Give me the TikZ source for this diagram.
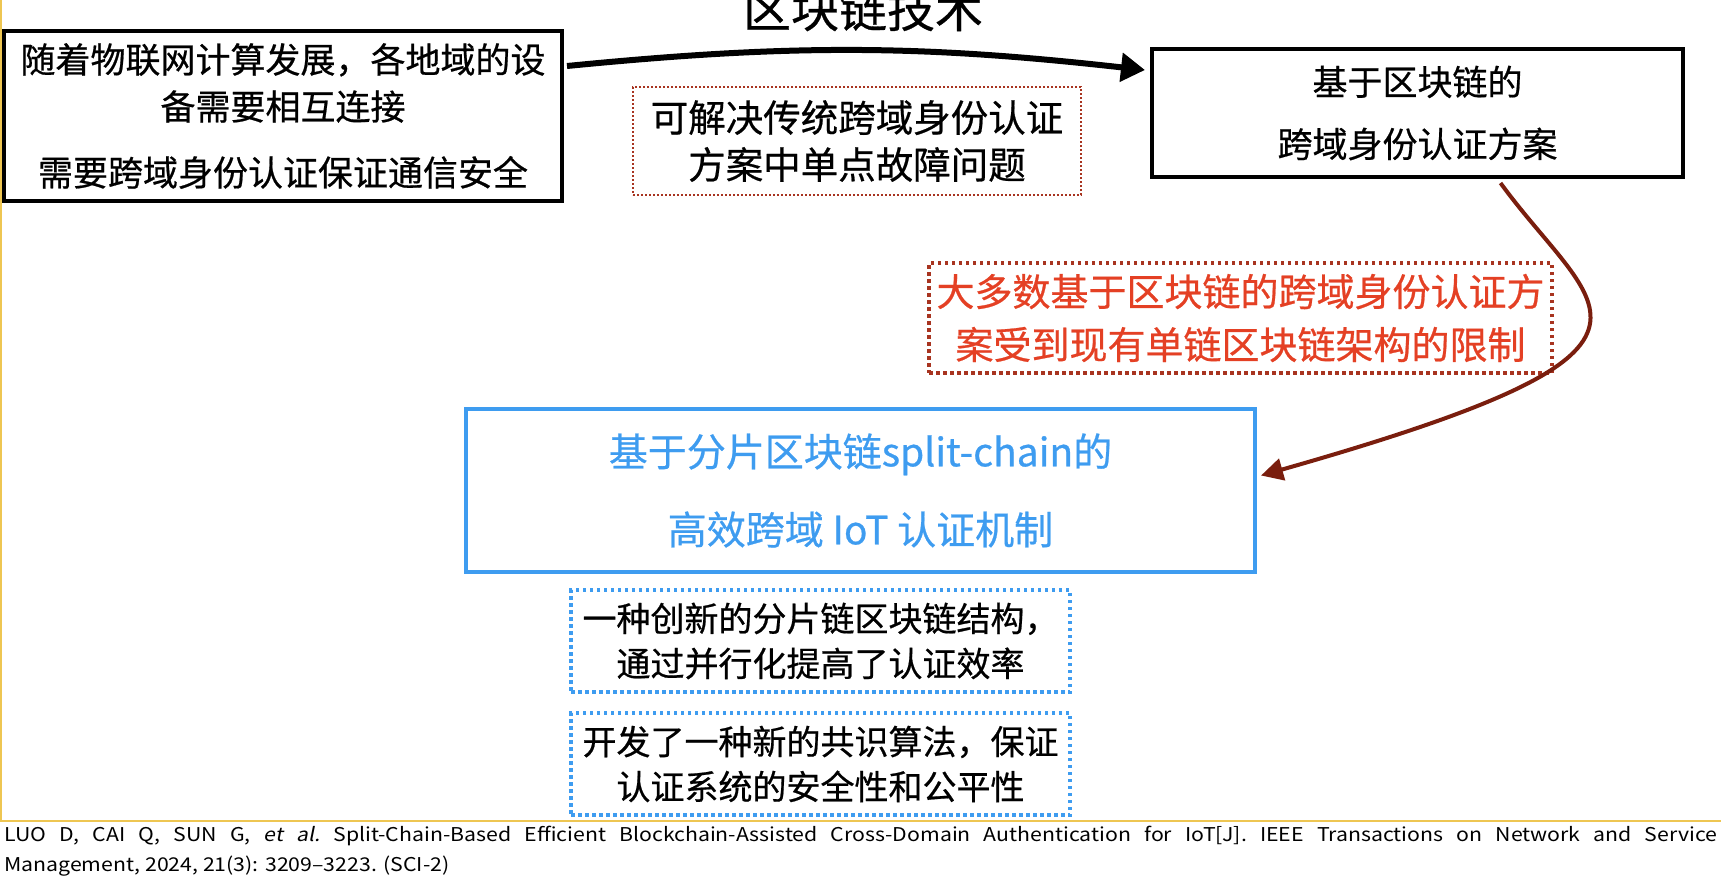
\documentclass[tikz,border=0pt]{standalone}
\usepackage{fontspec}
\setmainfont{Noto Sans CJK SC}[FakeBold=0.6]
\newfontfamily\citefont{Noto Sans CJK SC}[FakeStretch=1.12,Ligatures=TeX]
\newfontfamily\slantfont{Noto Sans CJK SC}[FakeStretch=1.12,FakeSlant=0.2]
\usepackage{tikz}
\usetikzlibrary{arrows.meta,positioning}

\definecolor{inkred}{RGB}{168,52,32}
\definecolor{warnred}{RGB}{228,64,36}
\definecolor{rust}{RGB}{122,30,14}
\definecolor{skyblue}{RGB}{62,156,240}
\definecolor{marker}{RGB}{238,198,82}

\begin{document}
\begin{tikzpicture}[
    x=1pt, y=-1pt,
    every node/.style={inner sep=0pt, align=center},
    sketchbox/.style={draw=black, line width=4pt, fill=white,
                      font=\fontsize{35}{47}\selectfont},
    notebox/.style={draw=inkred, line width=1.5pt, dash pattern=on 2pt off 2pt,
                    font=\fontsize{37.5}{47}\selectfont},
    warnbox/.style={draw=inkred, line width=3.5pt, dash pattern=on 3.5pt off 3.5pt,
                    text=warnred, font=\fontsize{38}{53}\selectfont},
    goalbox/.style={draw=skyblue, line width=4pt, text=skyblue,
                    font=\fontsize{39}{78}\selectfont},
    pointbox/.style={draw=skyblue, line width=3.5pt, dash pattern=on 3.5pt off 3.5pt,
                     font=\fontsize{34}{45}\selectfont},
    flowarrow/.style={-{Triangle[length=24pt,width=28pt]}, line width=6pt},
]
\useasboundingbox (0,0) rectangle (1721,881);

% -------- page guides --------
\draw[marker, line width=2pt] (1,0) -- (1,821);
\draw[marker, line width=2pt] (0,821) -- (1721,821);

% -------- TOP: motivation -> blockchain scheme --------
\node[font=\fontsize{48}{48}\selectfont] (tech) at (863,9) {区块链技术};

\node[sketchbox, minimum width=558pt, minimum height=170pt] (iot) at (283,116)
  {随着物联网计算发展，各地域的设\\备需要相互连接\\[19pt]需要跨域身份认证保证通信安全};

\node[sketchbox, minimum width=531pt, minimum height=128pt] (plan) at (1417.5,113)
  {基于区块链的\\[15pt]跨域身份认证方案};

\node[notebox, minimum width=448pt, minimum height=108pt] (gain) at (857,141)
  {可解决传统跨域身份认证\\方案中单点故障问题};

\draw[flowarrow] ([xshift=3pt,yshift=-37pt]iot.north east)
  to[bend left=6] ([xshift=-5pt,yshift=-23pt]plan.north west);

% -------- MIDDLE: limitation --------
\node[warnbox, minimum width=623pt, minimum height=110pt] (limit) at (1240.5,318)
  {大多数基于区块链的跨域身份认证方\\案受到现有单链区块链架构的限制};

% -------- BOTTOM: split-chain mechanism --------
\node[goalbox, minimum width=789pt, minimum height=163pt] (split) at (860.5,490.5)
  {基于分片区块链split-chain的\\高效跨域 IoT 认证机制};

\node[pointbox, minimum width=499pt, minimum height=102pt] (struct) at (820.5,641)
  {一种创新的分片链区块链结构，\\通过并行化提高了认证效率};
\node[pointbox, minimum width=499pt, minimum height=102pt] (consensus) at (820.5,764)
  {开发了一种新的共识算法，保证\\认证系统的安全性和公平性};

\draw[rust, line width=4pt, -{Triangle[length=22pt,width=22pt]}]
  ([xshift=83pt,yshift=-4pt]plan.south) .. controls (1596,314) and (1713,347)
  .. ([xshift=4pt,yshift=15pt]split.east);

% -------- reference --------
\node[anchor=north west, text width=1713pt, align=justify,
      font=\citefont\fontsize{19}{30}\selectfont] (cite) at (4,826)
  {LUO D, CAI Q, SUN G, {\slantfont et al.}\ Split-Chain-Based Efficient
   Blockchain-Assisted Cross-Domain Authentication for IoT[J]. IEEE Transactions
   on Network and Service\linebreak Management, 2024, 21(3): 3209–3223. (SCI-2)};
\end{tikzpicture}
\end{document}
